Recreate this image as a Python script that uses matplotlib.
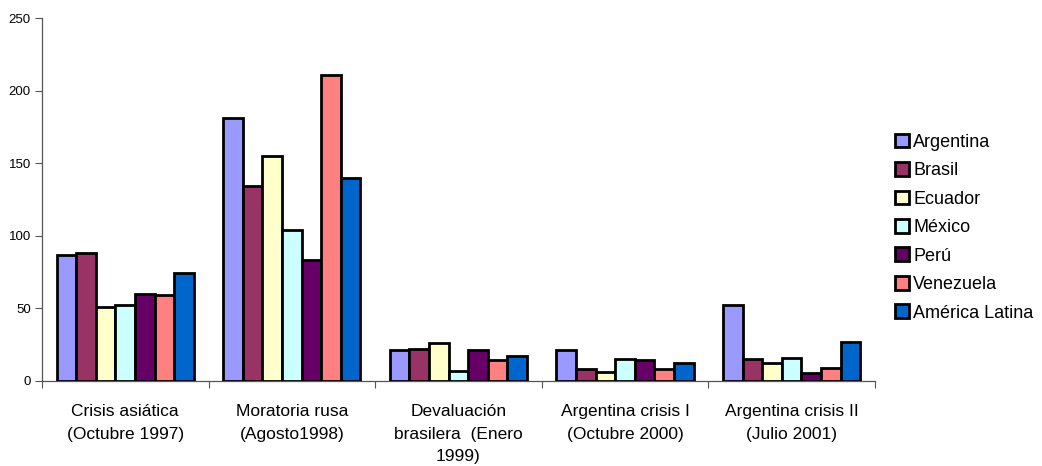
import matplotlib
matplotlib.use("Agg")
import matplotlib.pyplot as plt
import numpy as np

categories = ["Crisis asiática\n(Octubre 1997)", "Moratoria rusa\n(Agosto1998)",
              "Devaluación\nbrasilera  (Enero\n1999)", "Argentina crisis I\n(Octubre 2000)",
              "Argentina crisis II\n(Julio 2001)"]
series_names = ["Argentina", "Brasil", "Ecuador", "México", "Perú", "Venezuela", "América Latina"]
argentina = [87, 181, 21, 21, 52]
brasil = [88, 134, 22, 8, 15]
ecuador = [51, 155, 26, 6, 12]
mexico = [52, 104, 7, 15, 16]
peru = [60, 83, 21, 14, 5]
venezuela = [59, 211, 14, 8, 9]
america_latina = [74, 140, 17, 12, 27]
yticks = [0, 50, 100, 150, 200, 250]

values = [argentina, brasil, ecuador, mexico, peru, venezuela, america_latina]
colors = ["#9999FF", "#993366", "#FFFFCC", "#CCFFFF", "#660066", "#FF8080", "#0066CC"]

plt.rcParams['font.family'] = ['Liberation Sans', 'DejaVu Sans']
fig = plt.figure(figsize=(10.42, 4.66), dpi=100)
ax = fig.add_axes([0.0403, 0.183, 0.7994, 0.7777])

x = np.arange(len(categories))
w = 1 / 8.5
for i, (name, vals, c) in enumerate(zip(series_names, values, colors)):
    ax.bar(x + (i - 3) * w, vals, width=w, color=c, edgecolor="black",
           linewidth=2.0, label=name, zorder=3)

ax.set_xlim(-0.5, len(categories) - 0.5)
ax.set_ylim(0, 250)
ax.set_yticks(yticks)
ax.tick_params(axis="y", labelsize=9.5, length=5, width=0.8, color="#555555", pad=3)
ax.set_xticks(x)
ax.set_xticklabels(categories, fontsize=12.5, linespacing=1.6)
ax.tick_params(axis="x", which="major", length=0, pad=17)
ax.set_xticks(np.arange(-0.5, len(categories)), minor=True)
ax.tick_params(axis="x", which="minor", length=5, width=0.8, color="#555555")
for s in ["top", "right"]:
    ax.spines[s].set_visible(False)
for s in ["left", "bottom"]:
    ax.spines[s].set_color("#555555")
    ax.spines[s].set_linewidth(0.9)

leg = ax.legend(loc="center left", bbox_to_anchor=(1.024, 0.4226), frameon=False,
                fontsize=13, handlelength=0.8, handleheight=0.8,
                handletextpad=0.2, labelspacing=0.625, borderaxespad=0,
                borderpad=0)

fig.savefig("out.png", dpi=100)
